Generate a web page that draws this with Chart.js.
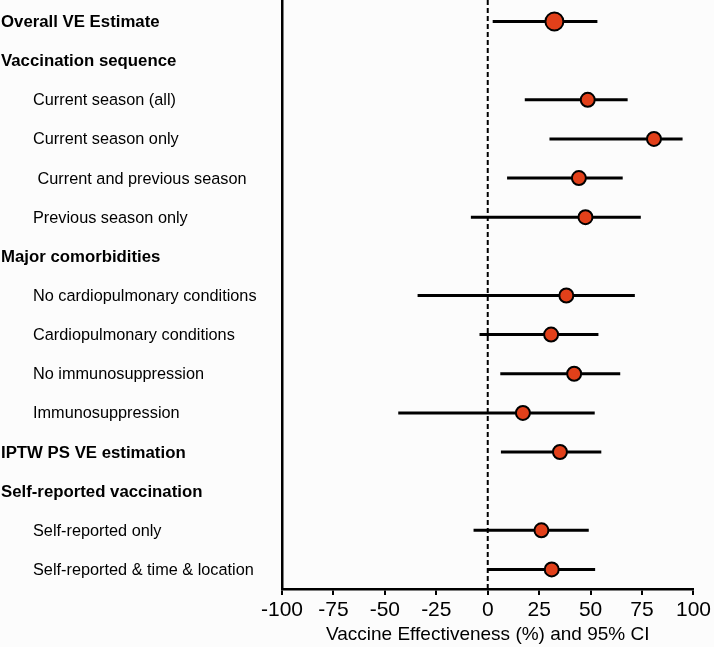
<!DOCTYPE html>
<html>
<head>
<meta charset="utf-8">
<script src="https://cdn.jsdelivr.net/npm/chart.js@4.4.1/dist/chart.umd.min.js"></script>
<style>
  html, body { margin: 0; padding: 0; background: #fcfcfc; }
  #wrap { width: 714px; height: 647px; }
</style>
</head>
<body>
<div id="wrap"><canvas id="c" width="714" height="647"></canvas></div>
<script>
// ---- data ----
const categories = [
  "Overall VE Estimate",
  "Vaccination sequence",
  "Current season (all)",
  "Current season only",
  " Current and previous season",
  "Previous season only",
  "Major comorbidities",
  "No cardiopulmonary conditions",
  "Cardiopulmonary conditions",
  "No immunosuppression",
  "Immunosuppression",
  "IPTW PS VE estimation",
  "Self-reported vaccination",
  "Self-reported only",
  "Self-reported & time & location"
];
const isHeader = [true, true, false, false, false, false, true, false, false, false, false, true, true, false, false];
const veEstimate = [32.4, null, 48.6, 80.8, 44.3, 47.5, null, 38.2, 30.8, 42.0, 17.1, 35.1, null, 26.1, 31.1];
const ciLower   = [2.4, null, 18.0, 30.0, 9.4, -8.2, null, -34.1, -4.0, 6.1, -43.5, 6.4, null, -6.9, 0.0];
const ciUpper   = [53.3, null, 68.0, 94.7, 65.6, 74.4, null, 71.5, 53.8, 64.4, 52.0, 55.2, null, 49.1, 52.2];
const xTicks = [-100, -75, -50, -25, 0, 25, 50, 75, 100];
const axisTitle = "Vaccine Effectiveness (%) and 95% CI";

// ---- build datasets from the arrays ----
const ciData = [];
const ptData = [];
categories.forEach((c, i) => {
  if (veEstimate[i] === null) return;
  ciData.push({x: ciLower[i], y: i}, {x: ciUpper[i], y: i}, {x: NaN, y: NaN});
  ptData.push({x: veEstimate[i], y: i});
});
const yMin = -0.55, yMax = 14.5;

const labelPlugin = {
  id: 'rowLabels',
  afterDraw(chart) {
    const ctx = chart.ctx;
    const ys = chart.scales.y;
    ctx.save();
    ctx.fillStyle = '#000';
    ctx.textAlign = 'left';
    ctx.textBaseline = 'middle';
    categories.forEach((c, i) => {
      const y = ys.getPixelForValue(i) + 1;
      if (isHeader[i]) {
        ctx.font = 'bold 16.8px "Liberation Sans", Arial, sans-serif';
        ctx.fillText(c, 1, y);
      } else {
        ctx.font = '16.3px "Liberation Sans", Arial, sans-serif';
        ctx.fillText(c, 33, y);
      }
    });
    ctx.restore();
  }
};

new Chart(document.getElementById('c'), {
  type: 'scatter',
  data: {
    datasets: [
      {
        label: 'zero',
        data: [{x: 0, y: yMin}, {x: 0, y: yMax}],
        showLine: true,
        borderColor: '#000',
        borderWidth: 2,
        borderDash: [5, 3],
        pointRadius: 0,
        order: 3
      },
      {
        label: 'CI',
        data: ciData,
        showLine: true,
        spanGaps: false,
        borderColor: '#000',
        borderWidth: 3,
        pointRadius: 0,
        order: 2
      },
      {
        label: 'VE',
        data: ptData,
        showLine: false,
        pointRadius: ctx => (ctx.dataIndex === 0 ? 9 : 7),
        pointHoverRadius: ctx => (ctx.dataIndex === 0 ? 9 : 7),
        backgroundColor: '#e2401a',
        borderColor: '#000',
        borderWidth: 2,
        order: 1
      }
    ]
  },
  options: {
    responsive: false,
    animation: false,
    devicePixelRatio: 1,
    layout: { autoPadding: false, padding: { left: 0, right: 0, top: 0, bottom: 0 } },
    plugins: { legend: { display: false }, tooltip: { enabled: false } },
    scales: {
      x: {
        type: 'linear',
        min: -100,
        max: 100,
        afterBuildTicks: s => { s.ticks = xTicks.map(v => ({value: v})); },
        ticks: {
          color: '#000',
          font: { family: '"Liberation Sans", Arial, sans-serif', size: 21 },
          padding: 3,
          maxRotation: 0
        },
        grid: {
          display: true,
          drawOnChartArea: false,
          drawTicks: true,
          tickLength: 6,
          color: '#000',
          lineWidth: 2
        },
        border: { display: true, color: '#000', width: 2.5 },
        title: {
          display: true,
          text: axisTitle,
          color: '#000',
          font: { family: '"Liberation Sans", Arial, sans-serif', size: 19 },
          padding: { top: 0, bottom: 1 }
        },
        afterFit: s => { s.height = 58; }
      },
      y: {
        type: 'linear',
        min: yMin,
        max: yMax,
        reverse: true,
        ticks: { display: false },
        grid: { display: false, drawTicks: false },
        border: { display: true, color: '#000', width: 2.5 },
        afterFit: s => { s.width = 282; }
      }
    }
  },
  plugins: [labelPlugin]
});
</script>
</body>
</html>
